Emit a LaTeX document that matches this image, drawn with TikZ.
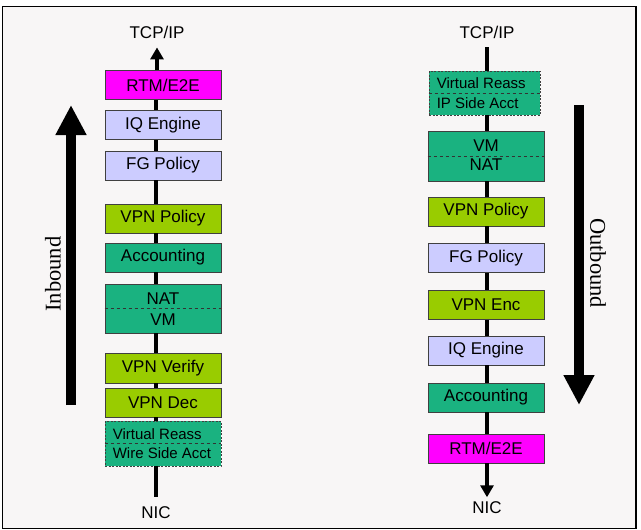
\documentclass[tikz,border=0pt]{standalone}
\usepackage{fontspec}
\setmainfont{Liberation Sans}
\newfontfamily\timesfont{Liberation Serif}
\usetikzlibrary{arrows.meta}
\definecolor{paper}{RGB}{248,246,246}
\definecolor{rtmcol}{RGB}{255,0,255}
\definecolor{lavcol}{RGB}{204,204,255}
\definecolor{vpncol}{RGB}{153,204,0}
\definecolor{tealcol}{RGB}{26,178,128}

\begin{document}
\begin{tikzpicture}[x=1pt, y=-1pt,
  box/.style={draw=black!75, line width=0.8pt, minimum width=116pt,
    minimum height=29pt, inner sep=0pt, font=\fontsize{17}{17}\selectfont},
  rtm/.style={box, fill=rtmcol},
  lav/.style={box, fill=lavcol},
  vpn/.style={box, fill=vpncol},
  teal/.style={box, fill=tealcol},
  reass/.style={teal, dash pattern=on 2pt off 1.5pt},
  lbl/.style={inner sep=0pt, font=\fontsize{17}{17}\selectfont},
  small/.style={inner sep=0pt, anchor=west, font=\fontsize{15}{15}\selectfont},
  side/.style={inner sep=0pt, font=\timesfont\fontsize{22.5}{22.5}\selectfont},
  flow/.style={line width=3.4pt},
  tip/.style={-{Triangle[length=12pt,width=13pt]}},
  big/.style={line width=10pt, -{Triangle[length=30pt,width=29pt]}}]
\useasboundingbox (0,0) rectangle (641,530);
\fill [white] (0,0) rectangle (641,530);
\draw [line width=1.5pt, fill=paper] (2.5,6.5) rectangle (636,528.5);

% inbound side
\node [lbl] (tcpL) at (157,32) {TCP/IP};
\node [rtm] (rtmL) at (163,85) {RTM/E2E};
\node [lav] (iqL) at (163,125) {IQ Engine};
\node [lav] (fgL) at (163,165.5) {FG Policy};
\node [vpn] (vpL) at (163,218.5) {VPN Policy};
\node [teal] (accL) at (163,257.5) {Accounting};
\node [teal, minimum height=49pt] (natL) at (163,308.5) {};
\node [vpn, minimum height=30pt] (verL) at (163,368) {VPN Verify};
\node [vpn] (decL) at (163,402.5) {VPN Dec};
\node [reass, minimum height=45pt] (vrL) at (163,443.5) {};
\node [lbl] (nicL) at (156,513) {NIC};
\draw [dashed, black!80] (natL.west) -- (natL.east);
\draw [dashed, black!80] (vrL.west) -- (vrL.east);
\node [lbl] (natLa) at ([yshift=9.5pt]natL.center) {NAT};
\node [lbl] (natLb) at ([yshift=-11.5pt]natL.center) {VM};
\node [small] (vrLa) at ([xshift=8pt,yshift=9.5pt]vrL.west) {Virtual Reass};
\node [small] (vrLb) at ([xshift=8pt,yshift=-9.5pt]vrL.west) {Wire Side Acct};

\draw [flow] (nicL.north) ++(0,-10) -- (vrL.south -| nicL);
\foreach \a/\b in {vrL/decL, decL/verL, verL/natL, natL/accL, accL/vpL,
                   vpL/fgL, fgL/iqL, iqL/rtmL}
  \draw [flow] (\a.north -| nicL) -- (\b.south -| nicL);
\draw [flow, tip, shorten >=9pt] (rtmL.north -| tcpL) -- (tcpL.south);

\draw [big] (71,405) -- (71,105);
\node [side, rotate=90] (inb) at (53,274) {Inbound};

% outbound side
\node [lbl] (tcpR) at (487,32) {TCP/IP};
\node [reass, minimum width=111pt, minimum height=44pt] (vrR) at (484.5,93) {};
\node [teal, minimum height=50pt] (natR) at (486,156) {};
\node [vpn] (vpR) at (486,211.5) {VPN Policy};
\node [lav] (fgR) at (486,258) {FG Policy};
\node [vpn] (encR) at (486,305) {VPN Enc};
\node [lav] (iqR) at (486,350.5) {IQ Engine};
\node [teal] (accR) at (486,397.5) {Accounting};
\node [rtm] (rtmR) at (486,448.5) {RTM/E2E};
\node [lbl] (nicR) at (487,507.5) {NIC};
\draw [dashed, black!80] (vrR.west) -- (vrR.east);
\draw [dashed, black!80] (natR.west) -- (natR.east);
\node [small] (vrRa) at ([xshift=8pt,yshift=10pt]vrR.west) {Virtual Reass};
\node [small] (vrRb) at ([xshift=8pt,yshift=-10pt]vrR.west) {IP Side Acct};
\node [lbl] (natRa) at ([yshift=10pt]natR.center) {VM};
\node [lbl] (natRb) at ([yshift=-9pt]natR.center) {NAT};

\draw [flow, shorten <=9pt] (tcpR.south) -- (vrR.north -| tcpR);
\foreach \a/\b in {vrR/natR, natR/vpR, vpR/fgR, fgR/encR, encR/iqR,
                   iqR/accR, accR/rtmR}
  \draw [flow] (\a.south -| tcpR) -- (\b.north -| tcpR);
\draw [flow, tip, shorten >=4pt] (rtmR.south -| tcpR) -- (nicR.north);

\draw [big] (579,105) -- (579,405);
\node [side, rotate=-90] (outb) at (598,263) {Outbound};
\end{tikzpicture}
\end{document}
